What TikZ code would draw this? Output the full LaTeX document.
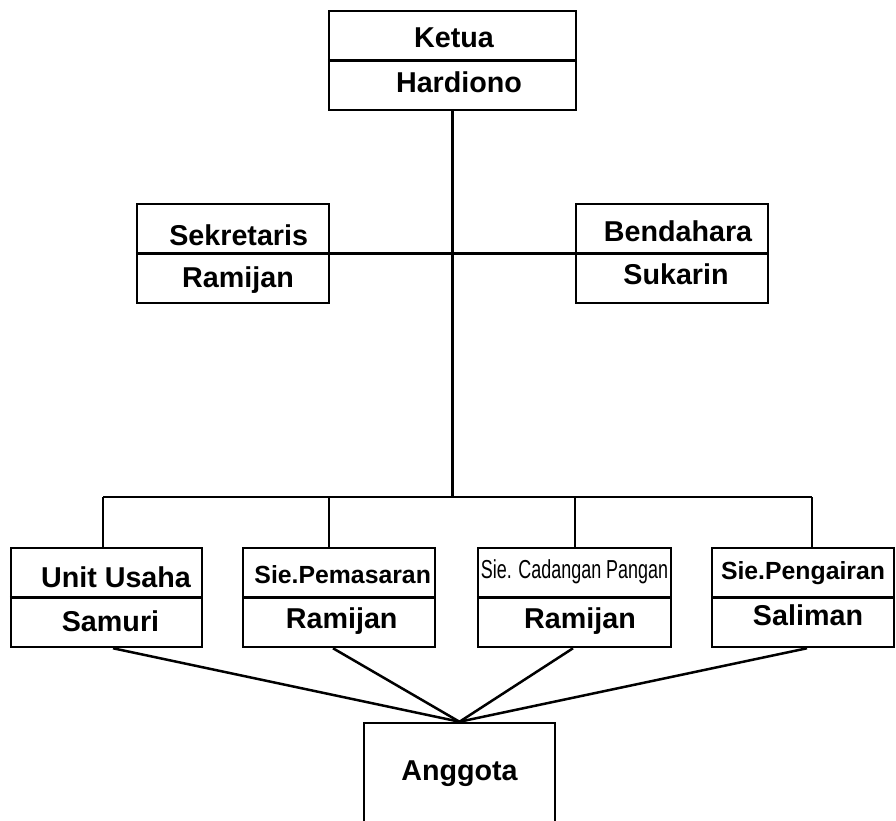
\documentclass[tikz,border=0pt]{standalone}
\usepackage{fontspec}
\setmainfont{Liberation Sans}
\newfontfamily\narrowfont[FakeStretch=0.69]{Liberation Sans}
\usetikzlibrary{calc}
\begin{document}
\begin{tikzpicture}[x=1pt,y=-1pt,
  box/.style={draw, line width=2.5pt, inner sep=0pt, minimum height=99pt},
  lbl/.style={font=\bfseries\fontsize{28.7}{30}\selectfont, anchor=base, inner sep=0pt},
  lblsm/.style={font=\bfseries\fontsize{24.8}{26}\selectfont, anchor=base, inner sep=0pt},
  lblnarrow/.style={font=\narrowfont\fontsize{26}{28}\selectfont, anchor=base, inner sep=0pt},
  conn/.style={line width=2.5pt}]
\useasboundingbox (0,0) rectangle (896,821);
\clip (0,0) rectangle (896,821);
\fill[white] (0,0) rectangle (896,821);
% boxes
\node[box, minimum width=247pt] (ketua) at (452.5,60.5) {};
\node[box, minimum width=192pt] (sek) at (233,253.5) {};
\node[box, minimum width=192pt] (bend) at (672,253.5) {};
\node[box, minimum width=191pt] (unit) at (106.5,597.5) {};
\node[box, minimum width=192pt] (pem) at (339,597.5) {};
\node[box, minimum width=193pt] (cad) at (574.5,597.5) {};
\node[box, minimum width=182pt] (peng) at (803,597.5) {};
\node[box, minimum width=191pt, minimum height=107pt] (anggota) at (459.5,776.5) {};
% dividers
\foreach \b in {ketua,sek,bend,unit,pem,cad,peng}
  \draw[conn] (\b.west) -- (\b.east);
% texts
\node[lbl] (tketua) at (454,48) {Ketua};
\node[lbl] (thard) at (459,93) {Hardiono};
\node[lbl] (tsek) at (238.7,245) {Sekretaris};
\node[lbl] (tsekn) at (238,287) {Ramijan};
\node[lbl] (tbend) at (678,241) {Bendahara};
\node[lbl] (tbendn) at (676,284) {Sukarin};
\node[lbl] (tunit) at (116,587) {Unit Usaha};
\node[lbl] (tunitn) at (110.5,631) {Samuri};
\node[lblsm] (tpem) at (342.7,583) {Sie.Pemasaran};
\node[lbl] (tpemn) at (341.7,628) {Ramijan};
\node[lblnarrow] (tcad) at (574.5,578) {Sie. Cadangan Pangan};
\node[lbl] (tcadn) at (580,628) {Ramijan};
\node[lblsm] (tpeng) at (803,579) {Sie.Pengairan};
\node[lbl] (tpengn) at (808,625) {Saliman};
\node[lbl] (tang) at (459.5,780) {Anggota};
% connectors
\coordinate (hub) at (452.5,497);
\coordinate (busL) at (103,497);
\coordinate (busR) at (812,497);
\coordinate (d2) at (329,497);
\coordinate (d3) at (575,497);
\draw[conn] (ketua.south) -- (hub);
\draw[conn] (sek.east) -- (bend.west);
\draw[conn] (busL) -- (busR);
\draw[conn] (busL) -- (busL |- unit.north);
\draw[conn] (d2) -- (d2 |- pem.north);
\draw[conn] (d3) -- (d3 |- cad.north);
\draw[conn] (busR) -- (busR |- peng.north);
\draw[conn] ($(unit.south)+(6.5,0)$) -- (anggota.north);
\draw[conn] ($(pem.south)+(-6,0)$) -- (anggota.north);
\draw[conn] ($(cad.south)+(-1.5,0)$) -- (anggota.north);
\draw[conn] ($(peng.south)+(4,0)$) -- (anggota.north);
\end{tikzpicture}
\end{document}
